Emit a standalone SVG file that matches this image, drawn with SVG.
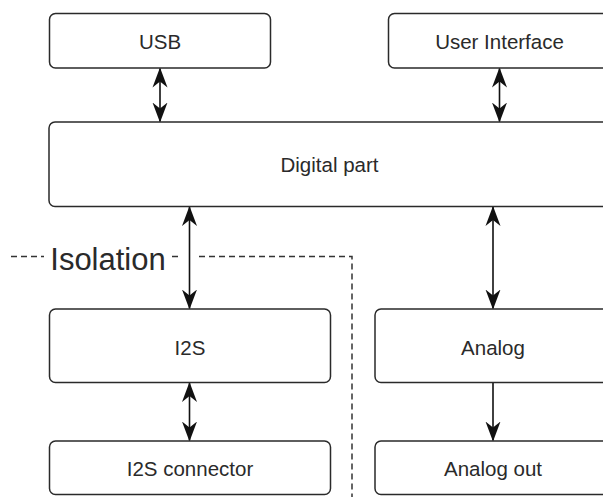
<svg xmlns="http://www.w3.org/2000/svg" width="603" height="497" viewBox="0 0 603 497">
<defs>
<style>
.box{fill:#ffffff;stroke:#2a2a2a;stroke-width:1.5}
.lbl{font-family:"Liberation Sans",Arial,sans-serif;font-size:20.5px;fill:#2a2a2a;text-anchor:middle}
.iso{font-family:"Liberation Sans",Arial,sans-serif;font-size:31px;fill:#2a2a2a;text-anchor:middle}
.con{fill:none;stroke:#111;stroke-width:1.6}
.dash{fill:none;stroke:#333;stroke-width:1.5;stroke-dasharray:6 4}
</style>
<marker id="ah" viewBox="0 0 20 16" refX="19" refY="8" markerWidth="20" markerHeight="16" markerUnits="userSpaceOnUse" orient="auto-start-reverse">
<path d="M20,8 L0,0.5 L6,8 L0,15.5 Z" fill="#111"/>
</marker>
</defs>
<rect width="603" height="497" fill="#ffffff"/>
<g id="isolation">
<path class="dash" d="M11,256.5 H44"/>
<path class="dash" d="M172,256.5 H180"/>
<path class="dash" d="M199,256.5 H352 V497"/>
<text class="iso" x="108" y="270">Isolation</text>
</g>
<g id="connectors">
<line class="con" x1="160" y1="68.5" x2="160" y2="121.5" marker-start="url(#ah)" marker-end="url(#ah)"/>
<line class="con" x1="499.5" y1="68.5" x2="499.5" y2="121.5" marker-start="url(#ah)" marker-end="url(#ah)"/>
<line class="con" x1="189.5" y1="207" x2="189.5" y2="308.5" marker-start="url(#ah)" marker-end="url(#ah)"/>
<line class="con" x1="493" y1="207" x2="493" y2="308.5" marker-start="url(#ah)" marker-end="url(#ah)"/>
<line class="con" x1="189.5" y1="383" x2="189.5" y2="440.5" marker-start="url(#ah)" marker-end="url(#ah)"/>
<line class="con" x1="493" y1="383" x2="493" y2="440.5" marker-end="url(#ah)"/>
</g>
<g id="usb">
<rect class="box" x="49.5" y="13.5" width="221" height="54.5" rx="6"/>
<text class="lbl" x="160" y="49">USB</text>
</g>
<g id="user-interface">
<rect class="box" x="388.5" y="13.5" width="222" height="54.5" rx="6"/>
<text class="lbl" x="499.5" y="49">User Interface</text>
</g>
<g id="digital-part">
<rect class="box" x="49" y="122" width="562" height="84.5" rx="6"/>
<text class="lbl" x="329.5" y="172">Digital part</text>
</g>
<g id="i2s">
<rect class="box" x="49.5" y="309" width="281" height="73.5" rx="6"/>
<text class="lbl" x="190" y="355">I2S</text>
</g>
<g id="analog">
<rect class="box" x="375" y="309" width="281" height="73.5" rx="6"/>
<text class="lbl" x="493" y="355">Analog</text>
</g>
<g id="i2s-connector">
<rect class="box" x="49.5" y="441" width="281" height="53.5" rx="6"/>
<text class="lbl" x="190" y="476">I2S connector</text>
</g>
<g id="analog-out">
<rect class="box" x="375" y="441" width="281" height="53.5" rx="6"/>
<text class="lbl" x="493" y="476">Analog out</text>
</g>
</svg>
